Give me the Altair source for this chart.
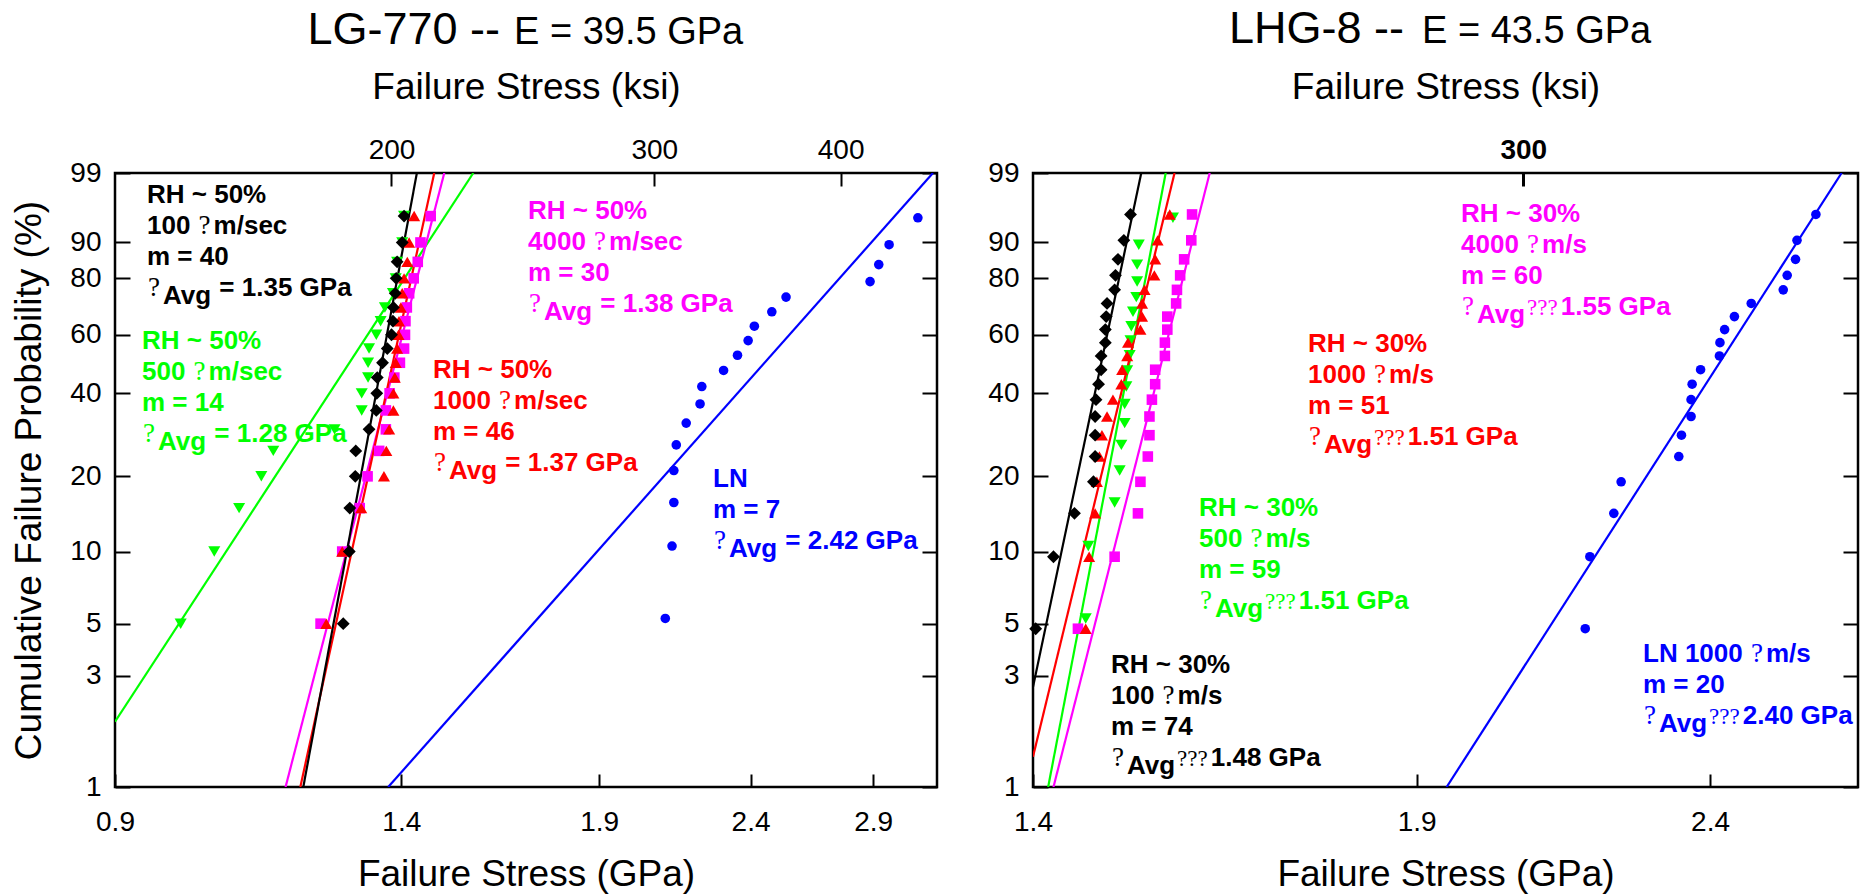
import math
import altair as alt
import pandas as pd

# ------------------------------------------------------------------ data
# cumulative failure probabilities (%) of the plotted ranks
P_A = [5, 10, 15, 20, 25, 30, 35, 40, 45, 50, 55, 60, 65, 70, 75, 80, 85, 90, 95]
P_B = [5.26, 10.53, 15.79, 21.05, 26.32, 31.58, 36.84, 42.11, 47.37, 52.63,
       57.89, 63.16, 68.42, 73.68, 78.95, 84.21, 89.47, 94.74]
P_C = [4.76, 9.52, 14.29, 19.05, 23.81, 28.57, 33.33, 38.10, 42.86, 47.62,
       52.38, 57.14, 61.90, 66.67, 71.43, 76.19, 80.95, 85.71, 90.48, 95.24]

# LG-770 failure stresses (GPa)
LG_green = [0.996, 1.049, 1.090, 1.128, 1.149, 1.263, 1.317, 1.317, 1.330, 1.330,
            1.332, 1.347, 1.356, 1.365, 1.382, 1.388, 1.391, 1.402, 1.406]
LG_magenta = [1.236, 1.278, 1.313, 1.329, 1.353, 1.367, 1.367, 1.375, 1.385, 1.397,
              1.406, 1.408, 1.409, 1.412, 1.417, 1.427, 1.436, 1.442, 1.465]
LG_red = [1.247, 1.278, 1.316, 1.363, 1.368, 1.374, 1.383, 1.383, 1.386, 1.388,
          1.391, 1.394, 1.395, 1.399, 1.402, 1.406, 1.413, 1.417, 1.428]
LG_black = [1.280, 1.292, 1.293, 1.304, 1.305, 1.332, 1.347, 1.348, 1.349, 1.360,
            1.370, 1.379, 1.382, 1.383, 1.387, 1.389, 1.391, 1.402, 1.406]
LG_blue = [2.104, 2.126, 2.132, 2.132, 2.140, 2.173, 2.220, 2.226, 2.302, 2.352,
           2.391, 2.414, 2.480, 2.535, 2.886, 2.925, 2.972, 3.107]

# LHG-8 failure stresses (GPa)
LHG_green = [1.460, 1.463, 1.494, 1.500, 1.502, 1.506, 1.506, 1.508, 1.509, 1.512,
             1.513, 1.514, 1.516, 1.520, 1.521, 1.521, 1.523, 1.565]
LHG_magenta = [1.451, 1.494, 1.522, 1.525, 1.534, 1.536, 1.536, 1.539, 1.543, 1.543,
               1.555, 1.555, 1.558, 1.558, 1.569, 1.570, 1.574, 1.579, 1.588, 1.589]
LHG_red = [1.460, 1.464, 1.471, 1.473, 1.476, 1.479, 1.485, 1.492, 1.502, 1.503,
           1.509, 1.510, 1.525, 1.527, 1.527, 1.530, 1.542, 1.543, 1.546, 1.561]
LHG_black = [1.403, 1.423, 1.447, 1.469, 1.471, 1.471, 1.471, 1.472, 1.475, 1.478,
             1.478, 1.483, 1.483, 1.484, 1.485, 1.494, 1.495, 1.498, 1.505, 1.513]
LHG_blue = [2.173, 2.181, 2.223, 2.236, 2.341, 2.346, 2.364, 2.364, 2.366, 2.382,
            2.418, 2.419, 2.428, 2.447, 2.480, 2.544, 2.552, 2.569, 2.572, 2.611]

# Weibull fit lines: end points (stress GPa, probability %)
LG_fit = {
    "green":   ([0.900, 1.5645], [1.91, 99]),
    "magenta": ([1.171, 1.496], [1, 99]),
    "red":     ([1.198, 1.473], [1, 99]),
    "black":   ([1.2035, 1.434], [1, 99]),
    "blue":    ([1.372, 3.180], [1, 99]),
}
LHG_fit = {
    "green":   ([1.417, 1.556], [1, 99]),
    "magenta": ([1.423, 1.6115], [1, 99]),
    "red":     ([1.400, 1.567], [1.35, 99]),
    "black":   ([1.400, 1.526], [2.69, 99]),
    "blue":    ([1.946, 2.665], [1, 99]),
}

X_TICKS_LG = [0.9, 1.4, 1.9, 2.4, 2.9]
X_TICKS_LHG = [1.4, 1.9, 2.4]
KSI_TICKS_LG = [200, 300, 400]
KSI_TICKS_LHG = [300]
Y_TICK_PCT = [1, 3, 5, 10, 20, 40, 60, 80, 90, 99]
KSI_TO_GPA = 0.00689476

# ------------------------------------------------------------------ styles
KEYS = ["green", "magenta", "red", "black", "blue"]   # drawing order
COLORS = {"black": "#000000", "green": "#00ff00", "red": "#ff0000",
          "magenta": "#ff00ff", "blue": "#0000ff"}
SHAPES = {"black": "diamond", "green": "triangle-down", "red": "triangle-up",
          "magenta": "square", "blue": "circle"}
SIZES = {"black": 165, "green": 145, "red": 145, "magenta": 112, "blue": 92}

SANS = "Liberation Sans"
SERIF = "Liberation Serif"
ANN_FS = 26
Q_FS = 27
QQ_FS = 23
LINE_H = 31

BOLD_W = {' ': 278, '%': 889, '.': 278, '/': 278, '=': 584, '~': 584, 'A': 722,
          'G': 778, 'H': 722, 'L': 611, 'N': 722, 'P': 667, 'R': 722, 'a': 556,
          'c': 556, 'e': 556, 'g': 611, 'm': 889, 's': 556, 'v': 556}


def bw(t):
    return sum(BOLD_W.get(c, 556) for c in t) * ANN_FS / 1000.0


# annotation blocks: (series, x0, first baseline, lines of segments)
LG_BLOCKS = [
    ("black", 32, 30, [[("b", "RH ~ 50%")], [("b", "100 "), ("q", "?"), ("b", "m/sec")],
                       [("b", "m = 40")], [("q", "?"), ("s", "Avg"), ("b", " = 1.35 GPa")]]),
    ("green", 27, 176, [[("b", "RH ~ 50%")], [("b", "500 "), ("q", "?"), ("b", "m/sec")],
                        [("b", "m = 14")], [("q", "?"), ("s", "Avg"), ("b", " = 1.28 GPa")]]),
    ("red", 318, 205, [[("b", "RH ~ 50%")], [("b", "1000 "), ("q", "?"), ("b", "m/sec")],
                       [("b", "m = 46")], [("q", "?"), ("s", "Avg"), ("b", " = 1.37 GPa")]]),
    ("magenta", 413, 46, [[("b", "RH ~ 50%")], [("b", "4000 "), ("q", "?"), ("b", "m/sec")],
                          [("b", "m = 30")], [("q", "?"), ("s", "Avg"), ("b", " = 1.38 GPa")]]),
    ("blue", 598, 314, [[("b", "LN")], [("b", "m = 7")],
                        [("q", "?"), ("s", "Avg"), ("b", " = 2.42 GPa")]]),
]
LHG_BLOCKS = [
    ("magenta", 428, 49, [[("b", "RH ~ 30%")], [("b", "4000 "), ("q", "?"), ("b", "m/s")],
                          [("b", "m = 60")], [("q", "?"), ("s", "Avg"), ("qq", "???"), ("b", "1.55 GPa")]]),
    ("red", 275, 179, [[("b", "RH ~ 30%")], [("b", "1000 "), ("q", "?"), ("b", "m/s")],
                       [("b", "m = 51")], [("q", "?"), ("s", "Avg"), ("qq", "???"), ("b", "1.51 GPa")]]),
    ("green", 166, 343, [[("b", "RH ~ 30%")], [("b", "500 "), ("q", "?"), ("b", "m/s")],
                         [("b", "m = 59")], [("q", "?"), ("s", "Avg"), ("qq", "???"), ("b", "1.51 GPa")]]),
    ("black", 78, 500, [[("b", "RH ~ 30%")], [("b", "100 "), ("q", "?"), ("b", "m/s")],
                        [("b", "m = 74")], [("q", "?"), ("s", "Avg"), ("qq", "???"), ("b", "1.48 GPa")]]),
    ("blue", 610, 489, [[("b", "LN 1000 "), ("q", "?"), ("b", "m/s")], [("b", "m = 20")],
                        [("q", "?"), ("s", "Avg"), ("qq", "???"), ("b", "2.40 GPa")]]),
]

LG_TITLE = [("LG-770 --", 385, -129, 45, "right"), ("E = 39.5 GPa", 399, -129, 38, "left")]
LHG_TITLE = [("LHG-8 --", 371, -130, 45, "right"), ("E = 43.5 GPa", 389, -130, 38, "left")]


def wb(p):
    return math.log(-math.log(1 - p / 100.0))


W_DOMAIN = [wb(1), wb(99)]
Y_TICKS = [wb(p) for p in Y_TICK_PCT]
W_EXPR = "log(-log(1 - datum.prob/100))"
Y_LABEL = "format(100*(1-exp(-exp(datum.value))), '.0f')"
KSI_LABEL = "format(datum.value/%f, '.0f')" % KSI_TO_GPA


def lines_frame(fit):
    rows = []
    for k in KEYS:
        xs, ps = fit[k]
        for s, p in zip(xs, ps):
            rows.append({"series": k, "stress": s, "prob": p})
    return pd.DataFrame(rows)


def text_frames(blocks):
    bold, serif = [], []
    for key, x0, y0, lines in blocks:
        col = COLORS[key]
        for i, line in enumerate(lines):
            y = y0 + i * LINE_H
            cur = x0
            for kind, t in line:
                if kind in ("q", "qq"):
                    fs = Q_FS if kind == "q" else QQ_FS
                    x = cur + 1
                    serif.append({"px": x, "py": y, "text": t, "fs": fs, "col": col})
                    cur = x + len(t) * 444 * fs / 1000.0 + 3
                else:
                    stripped = t.lstrip(" ")
                    cur += bw(t[:len(t) - len(stripped)])
                    dy = 8 if kind == "s" else 0
                    bold.append({"px": cur, "py": y + dy, "text": stripped.rstrip(" "),
                                 "fs": ANN_FS, "col": col})
                    cur += bw(stripped)
    return pd.DataFrame(bold), pd.DataFrame(serif)


def text_layer(df, font, weight, align="left"):
    return alt.Chart(df).mark_text(font=font, fontWeight=weight, align=align,
                                   baseline="alphabetic").encode(
        x=alt.X("px:Q", scale=None, axis=None),
        y=alt.Y("py:Q", scale=None, axis=None),
        text="text:N",
        size=alt.Size("fs:Q", scale=None, legend=None),
        color=alt.Color("col:N", scale=None, legend=None),
    )


def panel(series_map, fit, xdom, xticks, ksi_ticks, blocks, title, width, height,
          ytitle, top_bold):
    xscale = alt.Scale(type="log", domain=xdom, nice=False, zero=False)
    yscale = alt.Scale(domain=W_DOMAIN, nice=False, zero=False)
    cscale = alt.Scale(domain=KEYS, range=[COLORS[k] for k in KEYS])

    bottom_axis = alt.Axis(orient="bottom", values=xticks, format=".1f",
                           title="Failure Stress (GPa)", offset=-13, tickSize=13,
                           domain=False, grid=False, labelPadding=21, labelFlush=False,
                           labelOverlap=False, titleY=111, titleBaseline="alphabetic")
    top_axis = alt.Axis(orient="top", values=[k * KSI_TO_GPA for k in ksi_ticks],
                        labelExpr=KSI_LABEL, title="Failure Stress (ksi)", offset=-13,
                        tickSize=13, domain=False, grid=False, labelPadding=9,
                        labelFlush=False, labelOverlap=False, titleY=-88,
                        titleBaseline="alphabetic",
                        labelFontWeight="bold" if top_bold else "normal",
                        tickWidth=3 if top_bold else 2)
    if ytitle:
        left_axis = alt.Axis(orient="left", values=Y_TICKS, labelExpr=Y_LABEL,
                             title=ytitle, offset=-15, tickSize=15, domain=False,
                             grid=False, labelPadding=14, labelOverlap=False,
                             titleX=-101, titleBaseline="middle")
    else:
        left_axis = alt.Axis(orient="left", values=Y_TICKS, labelExpr=Y_LABEL,
                             title=None, offset=-15, tickSize=15, domain=False,
                             grid=False, labelPadding=14, labelOverlap=False)
    right_axis = alt.Axis(orient="right", values=Y_TICKS, labels=False, title=None,
                          offset=-15, tickSize=15, domain=False, grid=False)

    lines = alt.Chart(lines_frame(fit)).transform_calculate(w=W_EXPR).mark_line(
        strokeWidth=2.2, clip=True).encode(
        x=alt.X("stress:Q", scale=xscale, axis=top_axis),
        y=alt.Y("w:Q", scale=yscale, axis=right_axis),
        color=alt.Color("series:N", scale=cscale, legend=None),
        detail="series:N",
    )

    point_layers = []
    for i, k in enumerate(KEYS):
        stress, prob = series_map[k]
        df = pd.DataFrame({"stress": stress, "prob": prob})
        point_layers.append(
            alt.Chart(df).transform_calculate(w=W_EXPR).mark_point(
                filled=True, opacity=1, strokeWidth=0, shape=SHAPES[k],
                size=SIZES[k], color=COLORS[k]).encode(
                x=alt.X("stress:Q", scale=xscale, axis=bottom_axis if i == 0 else None),
                y=alt.Y("w:Q", scale=yscale, axis=left_axis if i == 0 else None),
            )
        )

    bold_df, serif_df = text_frames(blocks)
    t_bold = text_layer(bold_df, SANS, "bold")
    t_serif = text_layer(serif_df, SERIF, "normal")
    tr = pd.DataFrame([{"px": x, "py": y, "text": t, "fs": fs, "col": "#000000"}
                       for t, x, y, fs, a in title if a == "right"])
    tl = pd.DataFrame([{"px": x, "py": y, "text": t, "fs": fs, "col": "#000000"}
                       for t, x, y, fs, a in title if a == "left"])
    t_r = text_layer(tr, SANS, "normal", "right")
    t_l = text_layer(tl, SANS, "normal", "left")

    return alt.layer(lines, *point_layers, t_bold, t_serif, t_r, t_l).resolve_axis(
        x="independent", y="independent").properties(width=width, height=height)


left = panel({"green": (LG_green, P_A), "magenta": (LG_magenta, P_A), "red": (LG_red, P_A),
              "black": (LG_black, P_A), "blue": (LG_blue, P_B)},
             LG_fit, [0.9, 3.2], X_TICKS_LG, KSI_TICKS_LG, LG_BLOCKS, LG_TITLE,
             822, 614, "Cumulative Failure Probability (%)", False)
right = panel({"green": (LHG_green, P_B), "magenta": (LHG_magenta, P_C), "red": (LHG_red, P_C),
               "black": (LHG_black, P_C), "blue": (LHG_blue, P_C)},
              LHG_fit, [1.4, 2.7], X_TICKS_LHG, KSI_TICKS_LHG, LHG_BLOCKS, LHG_TITLE,
              825, 614, None, True)

chart = alt.hconcat(left, right, spacing=46).properties(
    padding={"left": 8, "top": 5, "right": 0, "bottom": 0},
    background="white",
).configure_view(
    stroke="black", strokeWidth=2.5
).configure_axis(
    labelFont=SANS, titleFont=SANS, labelColor="black", titleColor="black",
    tickColor="black", tickWidth=2, titleFontWeight="normal",
    labelFontSize=28, titleFontSize=37,
)

chart.save("out.html", embed_options={"renderer": "svg", "actions": False})
